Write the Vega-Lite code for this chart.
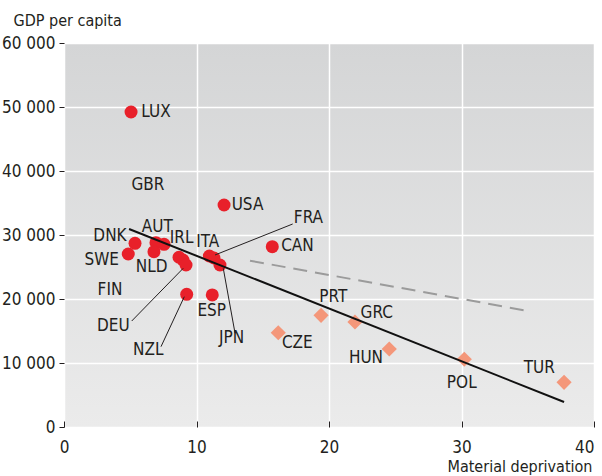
{
  "$schema": "https://vega.github.io/schema/vega-lite/v6.json",
  "width": 530,
  "height": 384,
  "autosize": {"type": "none"},
  "padding": {"left": 64, "top": 43, "right": 8, "bottom": 49},
  "background": "white",
  "config": {
    "view": {"stroke": null, "fill": {"gradient": "linear", "x1": 0, "y1": 0, "x2": 0, "y2": 1, "stops": [{"offset": 0, "color": "#d4d5d6"}, {"offset": 1, "color": "#ebebeb"}]}},
    "font": "'DejaVu Sans Condensed', Roboto, sans-serif",
    "axis": {"domain": false, "gridColor": "white", "gridWidth": 1.5, "tickColor": "#231f20", "labelColor": "#231f20", "titleColor": "#231f20", "labelFont": "'DejaVu Sans Condensed', Roboto, sans-serif", "titleFont": "'DejaVu Sans Condensed', Roboto, sans-serif", "labelFontSize": 17, "titleFontSize": 16, "titleFontWeight": "normal"}
  },
  "datasets": {
    "pts": [
      {"country": "LUX", "grp": "a", "md": 5.06, "gdp": 49220, "lx": 6.94, "ly": 49220},
      {"country": "GBR", "grp": "a", "md": 8.98, "gdp": 26090, "lx": 6.34, "ly": 37810},
      {"country": "USA", "grp": "a", "md": 12.08, "gdp": 34690, "lx": 13.85, "ly": 34690},
      {"country": "FRA", "grp": "a", "md": 11.32, "gdp": 26410, "lx": 18.45, "ly": 32660},
      {"country": "CAN", "grp": "a", "md": 15.72, "gdp": 28170, "lx": 17.62, "ly": 28300},
      {"country": "DNK", "grp": "a", "md": 5.36, "gdp": 28700, "lx": 3.47, "ly": 29840},
      {"country": "SWE", "grp": "a", "md": 4.85, "gdp": 27030, "lx": 2.85, "ly": 26090},
      {"country": "AUT", "grp": "a", "md": 6.94, "gdp": 28800, "lx": 7.04, "ly": 31300},
      {"country": "IRL", "grp": "a", "md": 7.55, "gdp": 28550, "lx": 8.88, "ly": 29480},
      {"country": "NLD", "grp": "a", "md": 6.79, "gdp": 27390, "lx": 6.62, "ly": 25050},
      {"country": "FIN", "grp": "a", "md": 8.68, "gdp": 26520, "lx": 3.47, "ly": 21410},
      {"country": "DEU", "grp": "a", "md": 9.21, "gdp": 25310, "lx": 3.72, "ly": 15780},
      {"country": "ITA", "grp": "a", "md": 10.97, "gdp": 26720, "lx": 10.85, "ly": 28950},
      {"country": "JPN", "grp": "a", "md": 11.77, "gdp": 25310, "lx": 12.65, "ly": 13860},
      {"country": "NZL", "grp": "a", "md": 9.26, "gdp": 20730, "lx": 6.36, "ly": 12030},
      {"country": "ESP", "grp": "a", "md": 11.19, "gdp": 20630, "lx": 11.15, "ly": 18130},
      {"country": "CZE", "grp": "b", "md": 16.17, "gdp": 14730, "lx": 17.61, "ly": 13170},
      {"country": "PRT", "grp": "b", "md": 19.40, "gdp": 17450, "lx": 20.32, "ly": 20270},
      {"country": "GRC", "grp": "b", "md": 21.96, "gdp": 16410, "lx": 23.6, "ly": 17860},
      {"country": "HUN", "grp": "b", "md": 24.55, "gdp": 12190, "lx": 22.79, "ly": 10730},
      {"country": "POL", "grp": "b", "md": 30.21, "gdp": 10580, "lx": 30.02, "ly": 6830},
      {"country": "TUR", "grp": "b", "md": 37.74, "gdp": 6980, "lx": 35.87, "ly": 9270}
    ],
    "leaders": [
      {"x": 17.26, "y": 31720, "x2": 11.40, "y2": 26880},
      {"x": 5.11, "y": 16560, "x2": 9.0, "y2": 24800},
      {"x": 7.32, "y": 12550, "x2": 9.08, "y2": 20360},
      {"x": 12.91, "y": 14640, "x2": 12.02, "y2": 24800}
    ],
    "fit": [
      {"line": "all", "md": 4.91, "gdp": 30940},
      {"line": "all", "md": 37.74, "gdp": 3906}
    ],
    "fit2": [
      {"line": "sub", "md": 14.04, "gdp": 25980},
      {"line": "sub", "md": 34.92, "gdp": 18170}
    ]
  },
  "layer": [
    {
      "data": {"name": "pts"},
      "mark": {"type": "point", "filled": true, "opacity": 1},
      "encoding": {
        "x": {"field": "md", "type": "quantitative", "scale": {"domain": [0, 40], "nice": false, "zero": false},
          "axis": {"values": [0, 10, 20, 30, 40], "title": "Material deprivation", "titleAngle": 0, "titleAlign": "right", "titleBaseline": "middle", "titleX": 528, "titleY": 45, "offset": -6, "tickSize": 6, "labelPadding": 12, "labelFlush": false, "labelAlign": {"condition": {"test": "datum.value == 40", "value": "right"}, "value": "center"}, "grid": true}},
        "y": {"field": "gdp", "type": "quantitative", "scale": {"domain": [0, 60000], "nice": false},
          "axis": {"values": [0, 10000, 20000, 30000, 40000, 50000, 60000], "labelExpr": "replace(format(datum.value, ','), ',', ' ')", "title": "GDP per capita", "titleAngle": 0, "titleAlign": "left", "titleBaseline": "middle", "titleX": -51, "titleY": -23, "tickSize": 5, "labelPadding": 4, "grid": true}},
        "shape": {"field": "grp", "type": "nominal", "scale": {"domain": ["a", "b"], "range": ["circle", "diamond"]}, "legend": null},
        "size": {"field": "grp", "type": "nominal", "scale": {"domain": ["a", "b"], "range": [169, 230]}, "legend": null},
        "color": {"field": "grp", "type": "nominal", "scale": {"domain": ["a", "b"], "range": ["#e8202a", "#f4977a"]}, "legend": null}
      }
    },
    {
      "data": {"name": "fit2"},
      "mark": {"type": "line", "color": "#9b9b9b", "strokeWidth": 2, "strokeDash": [14, 8]},
      "encoding": {"x": {"field": "md", "type": "quantitative"}, "y": {"field": "gdp", "type": "quantitative"}}
    },
    {
      "data": {"name": "fit"},
      "mark": {"type": "line", "color": "#111111", "strokeWidth": 2},
      "encoding": {"x": {"field": "md", "type": "quantitative"}, "y": {"field": "gdp", "type": "quantitative"}}
    },
    {
      "data": {"name": "leaders"},
      "mark": {"type": "rule", "color": "#231f20", "strokeWidth": 1},
      "encoding": {"x": {"field": "x", "type": "quantitative"}, "y": {"field": "y", "type": "quantitative"}, "x2": {"field": "x2"}, "y2": {"field": "y2"}}
    },
    {
      "data": {"name": "pts"},
      "mark": {"type": "text", "fontSize": 17, "color": "#231f20", "align": "center", "baseline": "middle"},
      "encoding": {"x": {"field": "lx", "type": "quantitative"}, "y": {"field": "ly", "type": "quantitative"}, "text": {"field": "country"}}
    }
  ]
}
